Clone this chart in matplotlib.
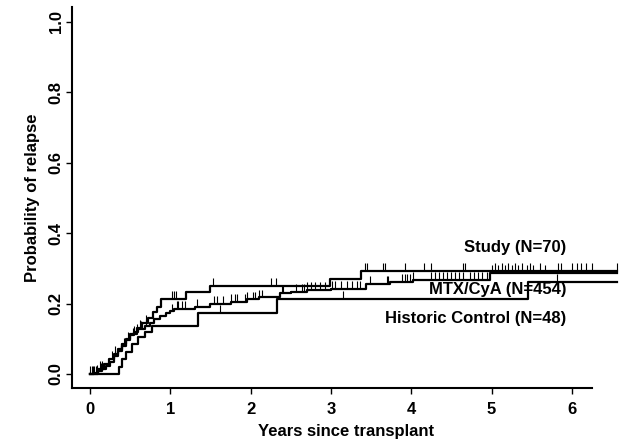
import numpy as np
import matplotlib
matplotlib.use('Agg')
import matplotlib.pyplot as plt

plt.rcParams['font.family'] = ['Liberation Sans', 'DejaVu Sans']
plt.rcParams['font.weight'] = 'bold'

# Step curves (time in years, cumulative probability of relapse)
study_t = [0, 0.10, 0.18, 0.24, 0.30, 0.35, 0.40, 0.45, 0.50, 0.58, 0.65, 0.72, 0.78, 0.83, 0.89, 1.20, 1.50, 2.99, 3.38, 6.56]
study_p = [0, 0.014, 0.029, 0.043, 0.057, 0.072, 0.086, 0.100, 0.115, 0.130, 0.145, 0.160, 0.175, 0.190, 0.213, 0.232, 0.250, 0.270, 0.294, 0.294]

mtx_t = [0, 0.05, 0.10, 0.15, 0.20, 0.25, 0.30, 0.35, 0.40, 0.45, 0.50, 0.55, 0.60, 0.68, 0.75, 0.80, 0.87,
         0.95, 1.00, 1.05, 1.31, 1.50, 1.75, 1.95, 2.10, 2.37, 2.50, 2.70, 3.00, 3.44, 3.74, 4.02, 4.98, 6.56]
mtx_p = [0, 0.004, 0.008, 0.015, 0.024, 0.035, 0.050, 0.065, 0.080, 0.097, 0.110, 0.120, 0.128, 0.135, 0.145, 0.155, 0.165,
         0.172, 0.178, 0.185, 0.190, 0.200, 0.205, 0.212, 0.218, 0.229, 0.234, 0.239, 0.242, 0.257, 0.262, 0.267, 0.287, 0.287]

hist_t = [0, 0.36, 0.40, 0.45, 0.52, 0.60, 0.68, 0.77, 1.34, 2.33, 5.46, 6.56]
hist_p = [0, 0.021, 0.042, 0.063, 0.085, 0.106, 0.120, 0.136, 0.173, 0.213, 0.262, 0.262]

# Censoring times
study_cens = [0.02, 0.05, 0.08, 0.12, 0.15, 0.28, 0.31, 0.55, 0.62, 0.70, 1.02, 1.05, 1.07, 1.53, 2.26, 2.32,
              3.42, 3.45, 3.65, 3.67, 3.92, 4.16, 4.25, 4.65, 4.67, 5.04, 5.13, 5.21, 5.29, 5.38, 5.48,
              5.60, 5.83, 5.87, 6.00, 6.06, 6.12, 6.18, 6.25, 6.56]
mtx_cens = [0.00, 0.04, 0.09, 0.14, 0.38, 0.42, 0.47, 0.53, 0.58, 0.64, 0.70, 1.02, 1.08, 1.10, 1.14, 1.18,
            1.33, 1.54, 1.58, 1.66, 1.76, 1.80, 1.83, 1.93, 1.95, 2.03, 2.06, 2.10, 2.14, 2.39, 2.40,
            2.57, 2.64, 2.67, 2.70, 2.75, 2.80, 2.86, 2.93, 3.01, 3.05, 3.13, 3.20, 3.26, 3.32, 3.36,
            3.49, 3.70, 3.71, 3.88, 3.92, 3.95, 3.98, 4.02, 4.25, 4.30, 4.35, 4.40, 4.45, 4.50, 4.55,
            4.60, 4.65, 4.73, 4.78, 4.83, 4.88, 4.94, 5.00, 5.08, 5.17, 5.25, 5.33, 5.44, 5.52, 5.67]
hist_cens = [1.62, 3.15, 5.81]

curves = [
    ('Study (N=70)', study_t, study_p, study_cens, 0.358),
    ('MTX/CyA (N=454)', mtx_t, mtx_p, mtx_cens, 0.241),
    ('Historic Control (N=48)', hist_t, hist_p, hist_cens, 0.159),
]

fig = plt.figure(figsize=(6.2, 4.48), dpi=100)
ax = fig.add_axes([72 / 620, 60 / 448, 548 / 620, 381 / 448])

for label, t, p, cens, ly in curves:
    ax.step(t, p, where='post', color='black', linewidth=1.6)
    # censor marks sit on top of the curve
    idx = np.searchsorted(t, cens, side='right') - 1
    yv = np.array(p)[np.clip(idx, 0, len(p) - 1)]
    ax.vlines(cens, yv, yv + 0.022, color='black', linewidth=0.8)
    ax.text(5.93, ly, label, ha='right', va='center', fontsize=12, fontweight='bold')

ax.set_xlim(-0.224, 6.6)
ax.set_ylim(-0.0398, 1.0426)
ax.set_xticks(range(7))
ax.set_yticks([0.0, 0.2, 0.4, 0.6, 0.8, 1.0])
ax.set_yticklabels(['0.0', '0.2', '0.4', '0.6', '0.8', '1.0'], rotation=90, va='center')
ax.tick_params(labelsize=12, length=4, width=1)
ax.tick_params(axis='x', pad=6)
ax.tick_params(axis='y', pad=2)

ax.spines['top'].set_visible(False)
ax.spines['right'].set_visible(False)
ax.spines['left'].set_linewidth(1.5)
ax.spines['bottom'].set_linewidth(1.5)
ax.spines['bottom'].set_bounds(-0.224, 6.25)

ax.set_xlabel('Years since transplant', fontsize=12, fontweight='bold', labelpad=5)
ax.set_ylabel('Probability of relapse', fontsize=12, fontweight='bold', labelpad=6)

fig.savefig('out.png', dpi=100)
